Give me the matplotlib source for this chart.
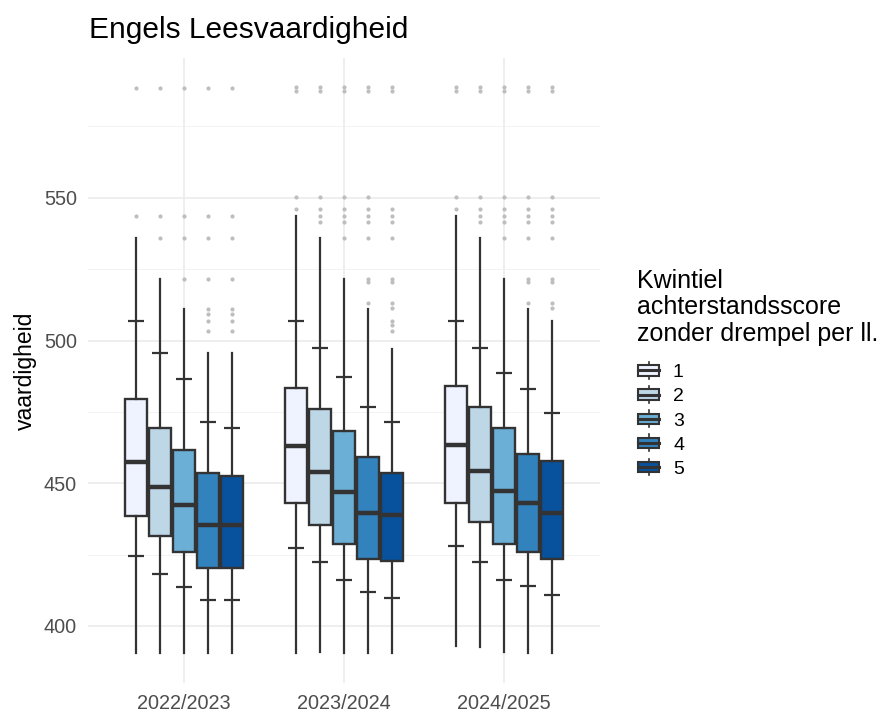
import matplotlib
matplotlib.use("Agg")
import matplotlib.pyplot as plt
from matplotlib.patches import Rectangle
from matplotlib.lines import Line2D
from matplotlib.legend_handler import HandlerBase

plt.rcParams['font.family'] = ['Liberation Sans', 'DejaVu Sans']

years = ["2022/2023", "2023/2024", "2024/2025"]
quintiles = ["1", "2", "3", "4", "5"]
colors = ["#EFF3FF", "#BDD7E7", "#6BAED6", "#3182BD", "#08519C"]

# per year, per quintile
q1 = [[438.5, 431.5, 425.8, 420.4, 420.4],
      [443.0, 435.4, 428.6, 423.4, 422.8],
      [443.0, 436.3, 428.6, 425.8, 423.4]]
med = [[457.6, 448.8, 442.2, 435.2, 435.2],
       [463.1, 454.1, 446.8, 439.7, 438.9],
       [463.5, 454.4, 447.3, 443.0, 439.7]]
q3 = [[479.4, 469.3, 461.7, 453.5, 452.7],
      [483.5, 475.9, 468.4, 459.1, 453.5],
      [484.1, 476.8, 469.2, 460.3, 457.8]]
whis_lo = [[390.6, 390.6, 390.6, 390.6, 390.6],
           [390.6, 391.0, 390.6, 390.6, 390.6],
           [392.8, 392.5, 391.0, 390.6, 390.6]]
whis_hi = [[535.8, 521.5, 511.2, 495.8, 495.8],
           [543.7, 535.8, 521.5, 511.0, 497.1],
           [543.7, 535.8, 521.5, 511.1, 506.8]]
p_lo = [[424.5, 418.2, 413.8, 409.1, 409.1],
        [427.3, 422.4, 416.1, 411.9, 409.9],
        [428.0, 422.4, 416.1, 414.0, 410.9]]
p_hi = [[507.0, 495.8, 486.5, 471.5, 469.2],
        [507.0, 497.4, 487.2, 476.7, 471.5],
        [507.0, 497.4, 488.7, 483.0, 474.6]]
outliers = [
    [[588.6, 543.8],
     [588.6, 543.8, 536.1],
     [588.6, 543.8, 536.1, 521.5],
     [588.6, 543.8, 536.1, 521.5, 511.2, 509.4, 506.9, 503.4],
     [588.6, 543.8, 536.1, 521.5, 511.2, 509.4, 506.9, 503.4]],
    [[589.0, 587.5, 550.4, 546.1],
     [589.0, 587.5, 550.4, 546.1, 543.8, 541.4],
     [589.0, 587.5, 550.4, 546.1, 543.8, 541.4, 536.1],
     [589.0, 587.5, 550.4, 546.1, 543.8, 541.4, 536.1, 521.5, 520.5, 513.0],
     [589.0, 587.5, 546.1, 543.8, 541.4, 536.1, 521.5, 520.5, 513.0, 511.5,
      507.0, 505.6, 503.4]],
    [[589.0, 587.5, 550.4, 546.1],
     [589.0, 587.5, 550.4, 546.1, 543.8, 541.4],
     [589.0, 587.5, 550.4, 546.1, 543.8, 541.4, 536.1],
     [589.0, 587.5, 550.4, 546.1, 543.8, 541.4, 536.1, 521.5, 520.5, 513.0],
     [589.0, 587.5, 550.4, 546.1, 543.8, 541.4, 536.1, 521.5, 520.5, 513.0,
      511.3]],
]

edge = "#333333"
step = 0.15
box_w = 0.1375

fig = plt.figure(figsize=(8.82, 7.13), dpi=100)
ax = fig.add_axes([88 / 882, 30 / 713, 512 / 882, 625 / 713])

for g in range(len(years)):
    for k in range(len(quintiles)):
        pos = g + 1 + (k - 2) * step
        stats = [dict(med=med[g][k], q1=q1[g][k], q3=q3[g][k],
                      whislo=whis_lo[g][k], whishi=whis_hi[g][k],
                      fliers=outliers[g][k])]
        ax.bxp(stats, positions=[pos], widths=box_w, patch_artist=True,
               showcaps=False,
               boxprops=dict(facecolor=colors[k], edgecolor=edge, linewidth=1.7),
               medianprops=dict(color=edge, linewidth=3.2, solid_capstyle='butt'),
               whiskerprops=dict(color=edge, linewidth=1.6),
               flierprops=dict(marker='o', markersize=3.0, markerfacecolor='#BEBEBE',
                               markeredgecolor='none', linestyle='none'),
               zorder=3)
        ax.plot([pos, pos], [p_lo[g][k], p_hi[g][k]], linestyle='none',
                marker='_', markersize=11, markeredgewidth=1.6, color=edge, zorder=4)

ax.set_xlim(0.4, 3.6)
ax.set_ylim(380, 599)
ax.set_xticks([1, 2, 3])
ax.set_xticklabels(years)
ax.set_yticks([400, 450, 500, 550])
ax.set_yticks([425, 475, 525, 575], minor=True)
ax.grid(True, which='major', color='#EBEBEB', linewidth=1.2, zorder=0)
ax.grid(True, which='minor', axis='y', color='#F2F2F2', linewidth=0.7, zorder=0)
ax.set_axisbelow(True)
for s in ax.spines.values():
    s.set_visible(False)
ax.tick_params(which='both', length=0, labelsize=14.3, labelcolor='#4D4D4D', pad=8)
ax.set_ylabel("vaardigheid", fontsize=16.5, labelpad=5)
fig.text(89 / 882, 1 - 38 / 713, "Engels Leesvaardigheid", fontsize=21.5,
         va='baseline', ha='left')

# legend title drawn separately so the gap to the keys can be matched
fig.text(637 / 882, 1 - 269 / 713, "Kwintiel\nachterstandsscore\nzonder drempel per ll.",
         fontsize=18, va='top', ha='left', linespacing=1.12)


class BoxHandler(HandlerBase):
    def create_artists(self, legend, orig_handle, xdescent, ydescent, width, height,
                       fontsize, trans):
        fc = orig_handle.get_facecolor()
        cx = width / 2 - xdescent
        cy = height / 2 - ydescent
        bw = width
        bh = height * 0.8
        r = Rectangle((cx - bw / 2, cy - bh / 2), bw, bh,
                      facecolor=fc, edgecolor=edge, linewidth=1.5, transform=trans)
        m = Line2D([cx - bw / 2, cx + bw / 2], [cy, cy],
                   color=edge, linewidth=2.2, transform=trans)
        w = Line2D([cx, cx], [cy - height * 0.65, cy + height * 0.65],
                   color=edge, linewidth=1.2, transform=trans)
        return [w, r, m]


handles = [Rectangle((0, 0), 1, 1, facecolor=c) for c in colors]
leg = fig.legend(handles, quintiles,
                 handler_map={Rectangle: BoxHandler()},
                 loc='upper left', bbox_to_anchor=(638 / 882, 1 - 364 / 713),
                 frameon=False, fontsize=14, borderpad=0, borderaxespad=0,
                 handlelength=1.08, handleheight=0.65, handletextpad=0.72,
                 labelspacing=0.35)

fig.savefig("out.png", dpi=100)
